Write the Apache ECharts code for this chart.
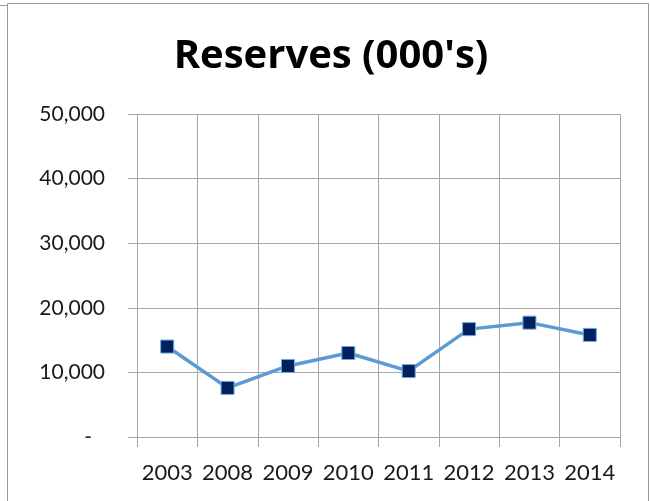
<!DOCTYPE html>
<html>
<head>
<meta charset="utf-8">
<script src="https://cdn.jsdelivr.net/npm/echarts@6/dist/echarts.min.js"></script>
<style>
html,body{margin:0;padding:0;background:#fff;}
#c{width:650px;height:501px;}
</style>
</head>
<body>
<div id="c"></div>
<script>
const titleText = "Reserves (000's)";
const categories = ['2003','2008','2009','2010','2011','2012','2013','2014'];
const reserves = [14000, 7600, 11000, 13000, 10200, 16700, 17700, 15800];
const yMin = 0, yMax = 50000, yStep = 10000;

const chart = echarts.init(document.getElementById('c'), null, {renderer:'canvas'});
const gridColor = '#A6A6A6';
const font = 'Lato, "Open Sans", sans-serif';
chart.setOption({
  animation: false,
  backgroundColor: '#fff',
  title: {
    text: titleText,
    left: 326, top: 32, textAlign: 'center',
    textStyle: {fontFamily: '"Open Sans", sans-serif', fontWeight: 'bold', fontSize: 40, color: '#000'}
  },
  graphic: [
    {type:'rect', shape:{x:7.5,y:3.5,width:641,height:520}, style:{fill:'none', stroke:'#9a9a9a', lineWidth:1}, silent:true},
    {type:'line', shape:{x1:0,y1:5.5,x2:7,y2:5.5}, style:{stroke:'#9a9a9a', lineWidth:1}, silent:true}
  ],
  grid: {left:137, right:30, top:114, bottom:64, containLabel:false},
  xAxis: {
    type:'category', data: categories, boundaryGap: true,
    axisLine: {show:true, lineStyle:{color:gridColor, width:1}},
    axisTick: {show:true, length:10, alignWithLabel:false, lineStyle:{color:gridColor}},
    splitLine: {show:true, lineStyle:{color:gridColor, width:1}},
    axisLabel: {fontFamily: font, fontSize: 22, color:'#1a1a1a', margin: 25, interval:0}
  },
  yAxis: {
    type:'value', min:yMin, max:yMax, interval:yStep,
    axisLine: {show:true, lineStyle:{color:gridColor, width:1}},
    axisTick: {show:true, length:9, lineStyle:{color:gridColor}},
    splitLine: {show:true, lineStyle:{color:gridColor, width:1}},
    axisLabel: {
      fontFamily: font, fontSize: 21, color:'#1a1a1a', margin: 32,
      formatter: v => v === 0 ? '{d|-}' : v.toLocaleString('en-US'),
      rich: {d: {fontFamily: font, fontSize: 21, color:'#1a1a1a', padding:[0,13,0,0]}}
    }
  },
  series: [{
    type:'line', data: reserves,
    lineStyle: {color:'#5B9BD5', width:3.5},
    symbol:'rect', symbolSize: 13,
    itemStyle: {color:'#002060', borderColor:'#6FA8DC', borderWidth:1},
    emphasis:{disabled:true}
  }]
});
</script>
</body>
</html>
